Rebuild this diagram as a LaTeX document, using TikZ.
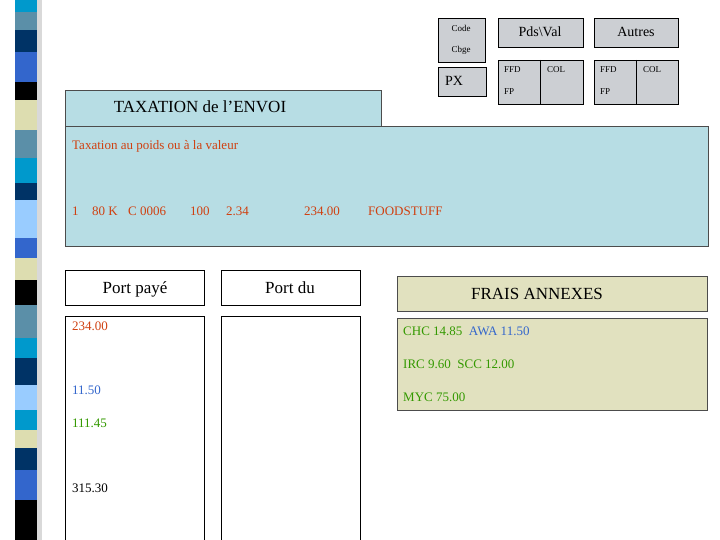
\documentclass[tikz,border=0pt]{standalone}
\usepackage{fontspec}
\setmainfont{Liberation Serif}
\newcommand{\fH}{\fontsize{17}{19}\selectfont}
\newcommand{\fM}{\fontsize{14}{16}\selectfont}
\newcommand{\fS}{\fontsize{13}{15}\selectfont}
\newcommand{\fT}{\fontsize{9}{10}\selectfont}
\begin{document}
\begin{tikzpicture}[x=1pt,y=-1pt,
 gbox/.style={draw=black,fill={rgb,255:red,204;green,207;blue,211},line width=0.8pt},
 lb/.style={draw=black!70,fill={rgb,255:red,183;green,221;blue,228},line width=0.8pt},
 wb/.style={draw=black,fill=white,line width=0.8pt},
 yb/.style={draw=black!70,fill={rgb,255:red,225;green,225;blue,191},line width=0.8pt},
 t/.style={inner sep=0pt,anchor=west}]
\definecolor{rd}{RGB}{208,64,16}\definecolor{bl}{RGB}{51,102,204}\definecolor{gr}{RGB}{51,153,0}
\useasboundingbox (0,0) rectangle (720,540);
% strip
\fill[black!15] (37,0) rectangle (42,540);
\foreach \a/\b/\c in {0/12/0099CC,12/30/5B8FA8,30/52/003366,52/82/3366CC,82/100/000000,100/130/DDDDB0,130/158/5B8FA8,158/183/0099CC,183/200/003366,200/238/99CCFF,238/258/3366CC,258/280/DDDDB0,280/305/000000,305/338/5B8FA8,338/358/0099CC,358/385/003366,385/410/99CCFF,410/430/0099CC,430/448/DDDDB0,448/470/003366,470/500/3366CC,500/540/000000}
 {\definecolor{sc}{HTML}{\c}\fill[sc] (15,\a) rectangle (37,\b);}
% top right
\node[gbox,minimum width=47pt,minimum height=44pt,anchor=north west] (code) at (438,18) {};
\node[font=\fT] (c1) at (461,28) {Code};
\node[font=\fT] (c2) at (461,50) {Cbge};
\node[gbox,minimum width=48pt,minimum height=29pt,anchor=north west] (px) at (438,67) {};
\node[t,font=\fM] (pxt) at (445,81) {PX};
\node[gbox,minimum width=85pt,minimum height=29pt,anchor=north west] (pv) at (498,18) {};
\node[font=\fM] (pvt) at (540,32) {Pds\textbackslash Val};
\node[gbox,minimum width=84pt,minimum height=29pt,anchor=north west] (au) at (594,18) {};
\node[font=\fM] (aut) at (636,32) {Autres};
\foreach \x/\m/\n in {498/540/583,594/636/678}{
 \draw[gbox] (\x,60) rectangle (\n,104);
 \draw (\m,60) -- (\m,104);
 \node[t,font=\fT] at (\x+6,70) {FFD};
 \node[t,font=\fT] at (\x+6,92) {FP};
 \node[t,font=\fT] at (\m+7,70) {COL};}
% taxation
\node[lb,minimum width=316pt,minimum height=36pt,anchor=north west] (tax) at (65,90) {};
\node[font=\fH] (taxt) at (200,107) {TAXATION de l'ENVOI};
\node[lb,minimum width=643pt,minimum height=120pt,anchor=north west] (big) at (65,126) {};
\node[t,text=rd,font=\fS] (l1) at (72,146) {Taxation au poids ou à la valeur};
\begin{scope}[every node/.style={t,text=rd,font=\fS}]
\node (r1) at (72,211) {1}; \node (r2) at (92,211) {80 K}; \node (r3) at (128,211) {C 0006};
\node (r4) at (190,211) {100}; \node (r5) at (226,211) {2.34}; \node (r6) at (304,211) {234.00};
\node (r7) at (368,211) {FOODSTUFF};
\end{scope}
% bottom
\node[wb,minimum width=139pt,minimum height=35pt,anchor=north west] (pp) at (65,270) {};
\node[font=\fH] at (135,289) {Port payé};
\node[wb,minimum width=139pt,minimum height=35pt,anchor=north west] (pd) at (221,270) {};
\node[font=\fH] at (290,288) {Port du};
\draw[wb] (65,316) -- (65,541) (65,316) -- (204,316) -- (204,541);
\draw[wb] (221,316) -- (221,541) (221,316) -- (360,316) -- (360,541);
\node[t,text=rd,font=\fS] at (72,326) {234.00};
\node[t,text=bl,font=\fS] at (72,390) {11.50};
\node[t,text=gr,font=\fS] at (72,423) {111.45};
\node[t,font=\fS] at (72,488) {315.30};
\node[yb,minimum width=310pt,minimum height=35pt,anchor=north west] (fa) at (397,276) {};
\node[font=\fH] at (537,294) {FRAIS ANNEXES};
\node[yb,minimum width=310pt,minimum height=92pt,anchor=north west] (fb) at (397,318) {};
\node[t,font=\fS] at (403,331) {\textcolor{gr}{CHC 14.85}\ \ \textcolor{bl}{AWA 11.50}};
\node[t,text=gr,font=\fS] at (403,364) {IRC 9.60\ \ SCC 12.00};
\node[t,text=gr,font=\fS] at (403,397) {MYC 75.00};
\end{tikzpicture}
\end{document}
